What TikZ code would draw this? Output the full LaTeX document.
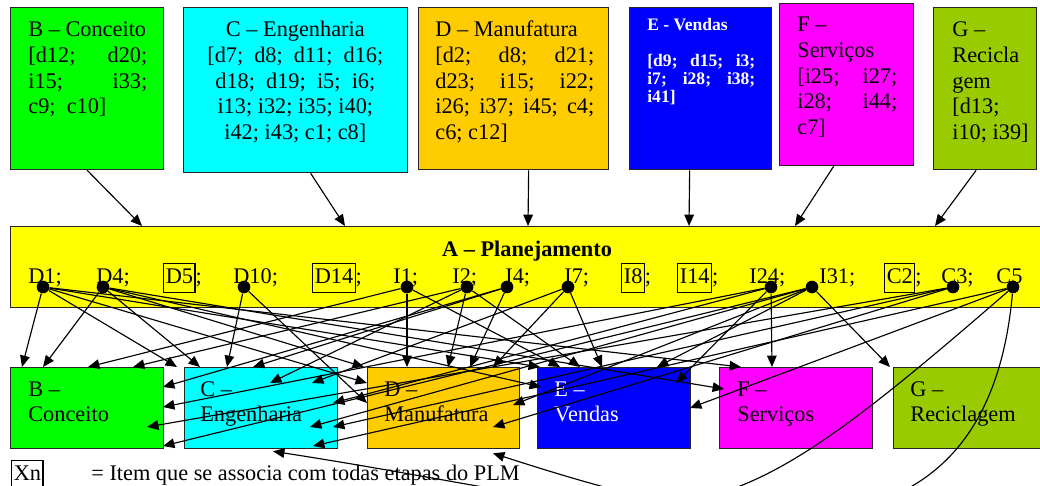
\documentclass[tikz,border=0pt]{standalone}
\usepackage{fontspec}
\setmainfont{Liberation Serif}
\usetikzlibrary{arrows.meta,calc}

\definecolor{cConc}{RGB}{0,255,0}
\definecolor{cEng}{RGB}{0,255,255}
\definecolor{cMan}{RGB}{255,204,0}
\definecolor{cVen}{RGB}{0,0,255}
\definecolor{cSer}{RGB}{255,0,255}
\definecolor{cRec}{RGB}{153,204,0}
\definecolor{cPla}{RGB}{255,255,0}

\newcommand{\fs}{\fontsize{12.7}{14.6}\selectfont}
\newcommand{\jl}[1]{\makebox[\linewidth][s]{#1}}
\setlength{\fboxsep}{0.8pt}
\setlength{\fboxrule}{0.6pt}

\begin{document}
\begin{tikzpicture}[x=0.02cm,y=-0.02cm,
  box/.style={draw=black!85, line width=0.75pt, anchor=north west, inner sep=0, rectangle},
  txt/.style={inner sep=0, anchor=base west, font=\fs},
  arr/.style={line width=0.65pt, -{Triangle[length=6.5pt,width=5.5pt]}},
  dot/.style={circle, fill=black, inner sep=0, minimum size=7.2pt}]

\useasboundingbox (0,0) rectangle (1040,486);
\clip (0,0) rectangle (1040,486);

% upper row: phases with their item lists
\node[box, fill=cConc, minimum width=3.06cm, minimum height=3.24cm] (tB) at (10,7) {};
\node[box, fill=cEng,  minimum width=4.48cm, minimum height=3.30cm] (tC) at (183,7) {};
\node[box, fill=cMan,  minimum width=3.80cm, minimum height=3.24cm] (tD) at (418,7) {};
\node[box, fill=cVen,  minimum width=2.84cm, minimum height=3.24cm] (tE) at (629,7) {};
\node[box, fill=cSer,  minimum width=2.68cm, minimum height=3.24cm] (tF) at (779,3) {};
\node[box, fill=cRec,  minimum width=2.06cm, minimum height=3.24cm] (tG) at (933,7) {};

\node[txt] (tBt) at (28,37) {\parbox[t]{2.38cm}{\raggedright B – Conceito\\\jl{[d12; d20;}\\\jl{i15; i33;}\\c9;\ \ c10]}};
\node[txt] (tCt) at (183,37) {\parbox[t]{4.48cm}{\centering C – Engenharia\\\makebox[3.52cm][s]{[d7; d8; d11; d16;}\\\makebox[3.2cm][s]{d18; d19; i5; i6;}\\i13; i32; i35; i40;\\i42; i43; c1; c8]}};
\node[txt] (tDt) at (435,37) {\parbox[t]{3.18cm}{\raggedright D – Manufatura\\\jl{[d2; d8; d21;}\\\jl{d23; i15; i22;}\\\jl{i26; i37; i45; c4;}\\c6; c12]}};
\node[txt, font=\fontsize{10}{10.2}\selectfont\bfseries, text=white] (tEt) at (647,31) {\parbox[t]{2.16cm}{\raggedright E - Vendas\\\mbox{}\\\jl{[d9; d15; i3;}\\\jl{i7; i28; i38;}\\i41]}};
\node[txt] (tFt) at (797,32) {\parbox[t]{2.0cm}{\raggedright F –\\Serviços\\\jl{[i25; i27;}\\\jl{i28; i44;}\\c7]}};
\node[txt] (tGt) at (952,37) {\parbox[t]{1.6cm}{\raggedright G –\\Recicla\\gem\\{[}d13;\\i10; i39]}};

% planning bar
\node[box, fill=cPla, minimum width=20.8cm, minimum height=1.62cm] (bar) at (10,226) {};
\node[inner sep=0, anchor=base, font=\fs\bfseries] (barT) at (527,256) {A – Planejamento};

\node[txt] (lD1)  at (28,283)  {D1;};
\node[txt] (lD4)  at (96,283)  {D4;};
\node[txt] (lD5)  at (163,283) {\fbox{\strut D5};};
\node[txt] (lD10) at (233,283) {D10;};
\node[txt] (lD14) at (312,283) {\fbox{\strut D14};};
\node[txt] (lI1)  at (393,283) {I1;};
\node[txt] (lI2)  at (452,283) {I2;};
\node[txt] (lI4)  at (505,283) {I4;};
\node[txt] (lI7)  at (564,283) {I7;};
\node[txt] (lI8)  at (621,283) {\fbox{\strut I8};};
\node[txt] (lI14) at (677,283) {\fbox{\strut I14};};
\node[txt] (lI24) at (749,283) {I24;};
\node[txt] (lI31) at (819,283) {I31;};
\node[txt] (lC2)  at (884,283) {\fbox{\strut C2};};
\node[txt] (lC3)  at (941,283) {C3;};
\node[txt] (lC5)  at (996,283) {C5};

% lower row: phases
\node[box, fill=cConc, minimum width=3.06cm, minimum height=1.62cm] (bB) at (10,367) {};
\node[box, fill=cEng,  minimum width=3.06cm, minimum height=1.62cm] (bC) at (184,367) {};
\node[box, fill=cMan,  minimum width=3.04cm, minimum height=1.62cm] (bD) at (367,367) {};
\node[box, fill=cVen,  minimum width=3.06cm, minimum height=1.62cm] (bE) at (537,367) {};
\node[box, fill=cSer,  minimum width=3.06cm, minimum height=1.62cm] (bF) at (719,367) {};
\node[box, fill=cRec,  minimum width=3.20cm, minimum height=1.62cm] (bG) at (893,367) {};

\node[txt] (bBt) at (28,396)  {\parbox[t]{3cm}{B –\\Conceito}};
\node[txt] (bCt) at (200,396) {\parbox[t]{3cm}{C –\\Engenharia}};
\node[txt] (bDt) at (384,396) {\parbox[t]{3cm}{D –\\Manufatura}};
\node[txt, text=white] (bEt) at (554,396) {\parbox[t]{3cm}{E –\\Vendas}};
\node[txt] (bFt) at (737,396) {\parbox[t]{3cm}{F –\\Serviços}};
\node[txt] (bGt) at (910,396) {\parbox[t]{3cm}{G –\\Reciclagem}};

% legend
\node[txt] (xn) at (11,480) {\fbox{\strut Xn}};
\node[txt] (leg) at (91,480) {= Item que se associa com todas etapas do PLM};

% phases feeding the planning bar
\draw[arr] (tB.south) -- ($(bar.north west)+(132,0)$);
\draw[arr] ($(tC.south)+(15,0)$) -- ($(bar.north west)+(335,0)$);
\draw[arr] ($(tD.south)+(15,0)$) -- ($(bar.north west)+(518,0)$);
\draw[arr] ($(tE.south)+(-11,0)$) -- ($(bar.north west)+(679,0)$);
\draw[arr] ($(tF.south)+(-13,0)$) -- ($(bar.north west)+(785,0)$);
\draw[arr] ($(tG.south)+(-9,0)$) -- ($(bar.north west)+(925,0)$);

% item dots
\node[dot] (pD1)  at (43,287)  {};
\node[dot] (pD4)  at (103,287) {};
\node[dot] (pD10) at (244,287) {};
\node[dot] (pI1)  at (407,287) {};
\node[dot] (pI2)  at (467,287) {};
\node[dot] (pI4)  at (507,287) {};
\node[dot] (pI7)  at (568,287) {};
\node[dot] (pI24) at (771,287) {};
\node[dot] (pI31) at (812,287) {};
\node[dot] (pC3)  at (953,287) {};
\node[dot] (pC5)  at (1013,287) {};

% item -> phase associations
\draw[arr] (pD1) -- ($(bB.north west)+(12,0)$);
\draw[arr] (pD1) -- ($(bC.north west)+(-7,0)$);
\draw[arr] (pD1) -- ($(bD.north west)+(0,16)$);
\draw[arr] (pD1) -- ($(bE.north west)+(3,0)$);
\draw[arr] (pD1) -- ($(bF.north west)+(22,0)$);

\draw[arr] (pD4) -- ($(bB.north west)+(33,0)$);
\draw[arr] (pD4) -- ($(bC.north west)+(16,0)$);
\draw[arr] (pD4) -- ($(bD.north west)+(-3,0)$);
\draw[arr] (pD4) -- ($(bE.north west)+(4,20)$);
\draw[arr] (pD4) -- ($(bF.north west)+(5,22)$);

\draw[arr] (pD10) -- ($(bC.north west)+(43,0)$);
\draw[arr] (pD10) -- ($(bD.north west)+(0,36)$);

\draw[arr] (pI1) -- ($(bB.north west)+(78,0)$);
\draw[arr] (pI1) -- ($(bD.north west)+(40,0)$);
\draw[arr] (pI1) -- ($(bE.north west)+(23,0)$);

\draw[arr] (pI2) -- ($(bB.north west)+(123,0)$);
\draw[arr] (pI2) -- ($(bC.north west)+(86,16)$);
\draw[arr] (pI2) -- ($(bD.north west)+(81,0)$);
\draw[arr] (pI2) -- ($(bE.north west)+(43,0)$);

\draw[arr] (pI4) -- ($(bB.north west)+(153,20)$);
\draw[arr] (pI4) -- ($(bC.north west)+(69,0)$);
\draw[arr] (pI4) -- ($(bD.north west)+(103,0)$);

\draw[arr] (pI7) -- ($(bC.north west)+(128,16)$);
\draw[arr] (pI7) -- ($(bD.north west)+(126,0)$);
\draw[arr] (pI7) -- ($(bE.north west)+(65,0)$);

\draw[arr] (pI24) -- ($(bB.north west)+(153,40)$);
\draw[arr] (pI24) -- ($(bC.north west)+(149,36)$);
\draw[arr] (pI24) -- ($(bE.north west)+(139,16)$);
\draw[arr] (pI24) -- ($(bF.north west)+(53,0)$);

\draw[arr] (pI31) -- ($(bB.north west)+(153,79)$);
\draw[arr] (pI31) -- ($(bC.north west)+(126,60)$);
\draw[arr] (pI31) -- ($(bD.north west)+(146,38)$);
\draw[arr] (pI31) -- ($(bE.north west)+(120,0)$);
\draw[arr] (pI31) -- ($(bG.north west)+(-3,0)$);

\draw[arr] (pC3) -- ($(bB.north west)+(137,60)$);
\draw[arr] (pC3) -- ($(bC.north west)+(149,60)$);
\draw[arr] (pC3) -- ($(bD.north west)+(126,60)$);

\draw[arr] (pC5) -- ($(bC.north west)+(129,79)$);
\draw[arr] (pC5) -- ($(bE.north west)+(153,41)$);
\draw[arr] (pC5) .. controls (685,572) and (703,518) .. ($(bC.south west)+(89,2)$);
\draw[arr] (pC5) .. controls (985,600) and (700,520) .. ($(bD.south west)+(126,4)$);

\end{tikzpicture}
\end{document}
